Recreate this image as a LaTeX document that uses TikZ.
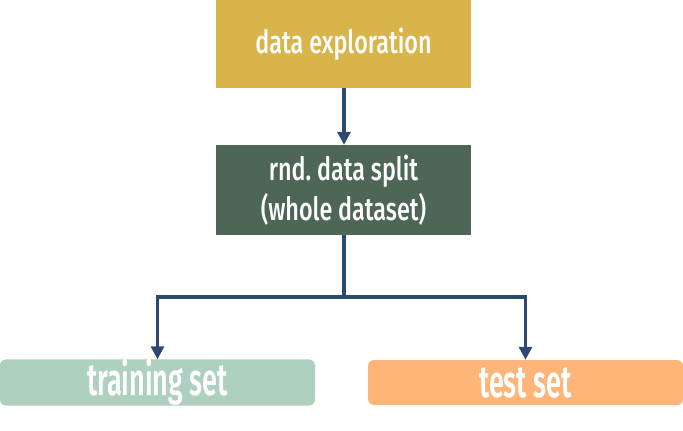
\documentclass[tikz,border=0pt]{standalone}
\usepackage{fontspec}
\setmainfont{Fira Sans Medium}[FakeStretch=0.73]
\newfontfamily\boldcond{Fira Sans SemiBold}[FakeStretch=0.6]
\usetikzlibrary{arrows.meta}
\definecolor{mustard}{HTML}{D9B44A}
\definecolor{darkgreen}{HTML}{4D6656}
\definecolor{mint}{HTML}{ADD0BF}
\definecolor{peach}{HTML}{FFB57A}
\definecolor{navy}{HTML}{2D4A6E}
\tikzset{
  topbox/.style={fill=#1, draw=none, inner sep=0pt, text=white, font=\fontsize{32}{40}\selectfont, align=center},
  botbox/.style={fill=#1, draw=none, rounded corners=6pt, inner sep=0pt, text=white, font=\boldcond\fontsize{45}{48}\selectfont},
  conn/.style={draw=navy, line width=3.2pt, -{Triangle[width=13pt,length=13pt]}},
}
\begin{document}
\begin{tikzpicture}[x=1pt,y=-1pt]
\useasboundingbox (0,0) rectangle (683,431);
\node[topbox=mustard, minimum width=255pt, minimum height=88pt] (explore) at (343.5,44) {data exploration};
\node[topbox=darkgreen, minimum width=255pt, minimum height=90pt] (split) at (343.5,190) {rnd.\ data split\\(whole dataset)};
\node[botbox=mint, minimum width=315pt, minimum height=45pt] (train) at (157.5,382.5) {training set};
\node[botbox=peach, minimum width=315pt, minimum height=45pt] (test) at (525.5,382.5) {test set};
\coordinate (fork) at (344,297);
\draw[conn] (explore.south -| fork) -- (split.north -| fork);
\draw[conn] (split.south -| fork) -- (fork) -| (train.north);
\draw[conn] (fork) -| (test.north);
\end{tikzpicture}
\end{document}
